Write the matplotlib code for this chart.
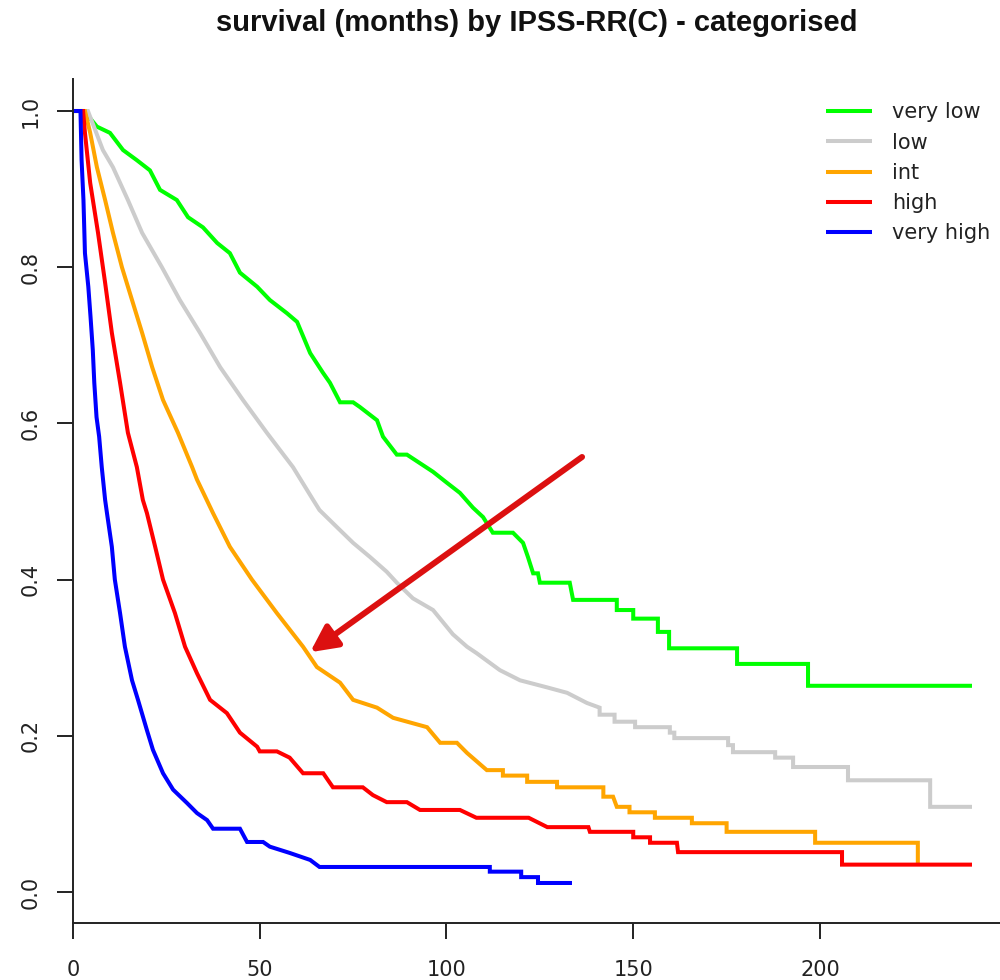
import matplotlib
matplotlib.use("Agg")
import matplotlib.pyplot as plt
from matplotlib import font_manager

# Kaplan-Meier curves (time in months, survival fraction)
groups = ["very low", "low", "int", "high", "very high"]
colors = ["#00ff00", "#cccccc", "#ffa500", "#ff0000", "#0000ff"]

t_very_low = [0, 3.0, 6.4, 9.9, 13.4, 17.1, 20.6, 23.3, 27.8, 30.8,
              34.8, 38.6, 42.0, 44.7, 49.3, 52.7, 57.3, 60.0, 63.5, 66.9,
              68.8, 71.5, 75.0, 76.8, 81.4, 83.0, 86.7, 89.4, 92.9, 96.4,
              100.1, 103.6, 107.1, 109.8, 112.4, 117.8, 120.5, 121.8, 123.2, 124.5,
              125.0, 133.0, 133.9, 145.6, 145.6, 150.0, 150.0, 156.6, 156.6, 159.6,
              159.6, 177.8, 177.8, 196.8, 196.8, 240.7]
s_very_low = [1.0, 1.0, 0.98, 0.972, 0.95, 0.937, 0.924, 0.899, 0.886, 0.864,
              0.851, 0.831, 0.818, 0.793, 0.775, 0.758, 0.741, 0.73, 0.69, 0.665,
              0.652, 0.627, 0.627, 0.621, 0.604, 0.583, 0.56, 0.56, 0.549, 0.538,
              0.524, 0.511, 0.492, 0.48, 0.46, 0.46, 0.447, 0.429, 0.408, 0.408,
              0.396, 0.396, 0.374, 0.374, 0.361, 0.361, 0.35, 0.35, 0.333, 0.333,
              0.312, 0.312, 0.292, 0.292, 0.264, 0.264]

t_low = [0, 4.0, 8.0, 10.7, 14.7, 18.5, 23.8, 28.6, 34.0, 39.4,
         45.5, 51.9, 58.9, 64.3, 66.0, 70.7, 75.0, 79.5, 84.0, 86.7,
         91.0, 96.4, 101.7, 105.5, 108.0, 114.3, 119.7, 126.9, 132.3, 137.6,
         141.0, 141.0, 145.0, 145.0, 150.5, 150.5, 159.8, 159.8, 161.0, 161.0,
         175.4, 175.4, 176.7, 176.7, 188.0, 188.0, 192.8, 192.8, 207.5, 207.5,
         229.5, 229.5, 240.7]
s_low = [1.0, 1.0, 0.95, 0.928, 0.886, 0.844, 0.80, 0.758, 0.716, 0.672,
         0.63, 0.588, 0.544, 0.502, 0.489, 0.467, 0.447, 0.429, 0.41, 0.396,
         0.376, 0.361, 0.33, 0.314, 0.306, 0.284, 0.271, 0.262, 0.255, 0.242,
         0.236, 0.227, 0.227, 0.218, 0.218, 0.211, 0.211, 0.204, 0.204, 0.197,
         0.197, 0.188, 0.188, 0.179, 0.179, 0.172, 0.172, 0.16, 0.16, 0.143,
         0.143, 0.109, 0.109]

t_int = [0, 3.2, 4.6, 6.4, 8.6, 10.7, 13.1, 15.8, 18.5, 21.2,
         24.1, 28.1, 31.9, 33.2, 37.5, 42.0, 47.9, 54.6, 61.6, 65.3,
         71.5, 75.0, 81.4, 85.7, 94.8, 98.3, 102.8, 105.5, 110.8, 115.1,
         115.1, 121.6, 121.6, 129.6, 129.6, 142.0, 142.0, 144.6, 145.6, 149.0,
         149.0, 155.8, 155.8, 165.7, 165.7, 175.0, 175.0, 198.7, 198.7, 226.2,
         226.2]
s_int = [1.0, 1.0, 0.972, 0.928, 0.886, 0.844, 0.80, 0.758, 0.716, 0.672,
         0.63, 0.588, 0.544, 0.528, 0.485, 0.442, 0.40, 0.357, 0.314, 0.288,
         0.268, 0.246, 0.236, 0.223, 0.211, 0.191, 0.191, 0.178, 0.156, 0.156,
         0.149, 0.149, 0.141, 0.141, 0.134, 0.134, 0.122, 0.122, 0.109, 0.109,
         0.102, 0.102, 0.095, 0.095, 0.088, 0.088, 0.077, 0.077, 0.063, 0.063,
         0.035]

t_high = [0, 2.7, 3.2, 4.6, 6.7, 8.6, 10.4, 12.6, 14.7, 17.1,
          18.7, 19.8, 22.0, 24.1, 27.3, 30.0, 33.2, 36.7, 41.2, 44.7,
          49.3, 50.0, 54.6, 58.0, 61.6, 67.0, 69.6, 77.6, 80.3, 84.0,
          89.4, 92.9, 103.6, 108.0, 122.0, 127.0, 138.0, 138.4, 150.0, 150.0,
          154.5, 154.5, 161.7, 162.0, 205.9, 205.9, 240.7]
s_high = [1.0, 1.0, 0.972, 0.908, 0.844, 0.78, 0.716, 0.652, 0.588, 0.544,
          0.502, 0.485, 0.442, 0.40, 0.357, 0.314, 0.28, 0.246, 0.229, 0.204,
          0.186, 0.18, 0.18, 0.172, 0.152, 0.152, 0.134, 0.134, 0.124, 0.115,
          0.115, 0.105, 0.105, 0.095, 0.095, 0.083, 0.083, 0.077, 0.077, 0.070,
          0.070, 0.063, 0.063, 0.051, 0.051, 0.035, 0.035]

t_very_high = [0, 2.0, 2.3, 2.8, 3.2, 4.1, 4.7, 5.3, 5.7, 6.3,
               7.0, 7.7, 8.6, 9.1, 10.4, 11.2, 12.6, 13.9, 15.8, 17.4,
               19.8, 21.4, 24.1, 26.8, 30.5, 33.2, 35.9, 37.5, 44.7, 46.6,
               50.9, 52.7, 58.0, 63.5, 66.0, 111.6, 111.6, 120.0, 120.0, 124.5,
               124.5, 133.6]
s_very_high = [1.0, 1.0, 0.937, 0.886, 0.818, 0.775, 0.736, 0.694, 0.652, 0.608,
               0.583, 0.544, 0.502, 0.485, 0.442, 0.40, 0.357, 0.314, 0.271, 0.246,
               0.207, 0.182, 0.152, 0.131, 0.114, 0.101, 0.092, 0.081, 0.081, 0.064,
               0.064, 0.058, 0.050, 0.041, 0.032, 0.032, 0.026, 0.026, 0.019, 0.019,
               0.0115, 0.0115]

x_ticks = [0, 50, 100, 150, 200]
y_ticks = [0.0, 0.2, 0.4, 0.6, 0.8, 1.0]
y_tick_labels = ["0.0", "0.2", "0.4", "0.6", "0.8", "1.0"]

# arrow pointing at the 'int' curve
arrow_tail = (136.3, 0.557)
arrow_head = (63.5, 0.307)

title = "survival (months) by IPSS-RR(C) - categorised"

# title font: a narrow bold face if one is installed, else plain bold
title_font = None
for f in font_manager.fontManager.ttflist:
    if "LiberationSansNarrow-Bold." in f.fname:
        title_font = font_manager.FontProperties(fname=f.fname, size=25.5)
        break
if title_font is None:
    title_font = font_manager.FontProperties(family="Liberation Sans",
                                             weight="bold", size=21)

plt.rcParams["font.family"] = ["DejaVu Sans"]

fig = plt.figure(figsize=(10, 9.8), dpi=100)
ax = fig.add_axes([0.073, 0.0582, 0.927, 0.8612])

series = [
    (t_very_low, s_very_low),
    (t_low, s_low),
    (t_int, s_int),
    (t_high, s_high),
    (t_very_high, s_very_high),
]
for (t, s), name, col in zip(series, groups, colors):
    ax.plot(t, s, color=col, lw=2.9, label=name,
            solid_joinstyle="miter", solid_capstyle="butt")

ax.annotate("", xy=arrow_head, xytext=arrow_tail,
            arrowprops=dict(arrowstyle="-|>,head_length=0.8,head_width=0.4",
                            color="#dc1010", lw=4.3, mutation_scale=20,
                            shrinkA=0, shrinkB=0))

ax.set_xlim(0, 248.2)
ax.set_ylim(-0.0397, 1.041)

for side in ["top", "right"]:
    ax.spines[side].set_visible(False)
for side in ["left", "bottom"]:
    ax.spines[side].set_linewidth(1.4)
    ax.spines[side].set_color("#222222")

ax.set_xticks(x_ticks)
ax.set_yticks(y_ticks)
ax.set_yticklabels(y_tick_labels, rotation=90, va="center")
ax.tick_params(axis="both", length=11.5, width=1.4, color="#222222",
               labelsize=15, labelcolor="#222222")
ax.tick_params(axis="y", pad=12)
ax.tick_params(axis="x", pad=15)

fig.text(0.537, 1 - 23 / 980, title, ha="center", va="center",
         fontproperties=title_font, color="#111111")

ax.legend(loc="upper left", bbox_to_anchor=(816 / 1000, 1 - 92 / 980),
          bbox_transform=fig.transFigure, frameon=False, borderpad=0,
          handlelength=2.2, handletextpad=0.96, labelspacing=0.49,
          fontsize=15, labelcolor="#222222")

plt.savefig("out.png", dpi=100, facecolor="white")
